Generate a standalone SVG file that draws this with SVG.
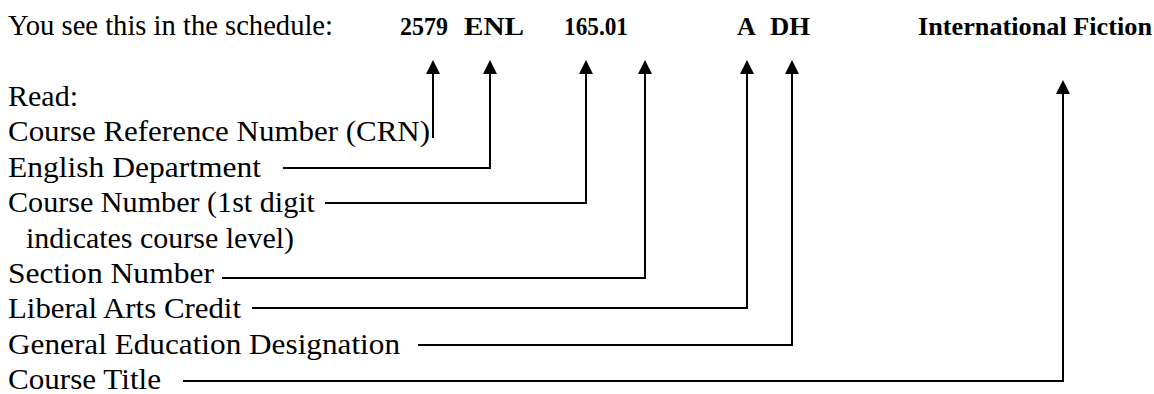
<svg xmlns="http://www.w3.org/2000/svg" width="1154" height="394" viewBox="0 0 1154 394">
  <style>
    .t { font-family: "Liberation Serif", "Times New Roman", serif; font-size: 30px; fill: #000; }
    .b { font-family: "Liberation Serif", "Times New Roman", serif; font-size: 26px; font-weight: bold; fill: #000; }
    .c { fill: none; stroke: #000; stroke-width: 2; }
  </style>
  <defs>
    <marker id="arrow" viewBox="0 0 14 14" refX="0" refY="7" markerWidth="14" markerHeight="14" markerUnits="userSpaceOnUse" orient="auto">
      <path d="M0,0 L14,7 L0,14 z" fill="#000"/>
    </marker>
  </defs>
  <rect width="1154" height="394" fill="#fff"/>

  <g id="header">
    <text class="t" x="8" y="35" textLength="325" lengthAdjust="spacingAndGlyphs">You see this in the schedule:</text>
  </g>
  <g id="code-crn"><text class="b" x="400" y="35" textLength="48" lengthAdjust="spacingAndGlyphs">2579</text></g>
  <g id="code-dept"><text class="b" x="464" y="35" textLength="60" lengthAdjust="spacingAndGlyphs">ENL</text></g>
  <g id="code-number"><text class="b" x="564" y="35" textLength="64" lengthAdjust="spacingAndGlyphs">165.01</text></g>
  <g id="code-la"><text class="b" x="737" y="35">A</text></g>
  <g id="code-gen"><text class="b" x="770" y="35" textLength="40" lengthAdjust="spacingAndGlyphs">DH</text></g>
  <g id="code-title"><text class="b" x="918" y="35" textLength="234" lengthAdjust="spacingAndGlyphs">International Fiction</text></g>

  <g id="read"><text class="t" x="8" y="106">Read:</text></g>
  <g id="label-crn"><text class="t" x="8" y="141" textLength="422" lengthAdjust="spacingAndGlyphs">Course Reference Number (CRN)</text></g>
  <g id="label-dept"><text class="t" x="8" y="177" textLength="253" lengthAdjust="spacingAndGlyphs">English Department</text></g>
  <g id="label-number">
    <text class="t" x="8" y="212" textLength="307" lengthAdjust="spacingAndGlyphs">Course Number (1st digit</text>
    <text class="t" x="26" y="248" textLength="268" lengthAdjust="spacingAndGlyphs">indicates course level)</text>
  </g>
  <g id="label-section"><text class="t" x="8" y="283" textLength="206" lengthAdjust="spacingAndGlyphs">Section Number</text></g>
  <g id="label-la"><text class="t" x="8" y="318" textLength="233" lengthAdjust="spacingAndGlyphs">Liberal Arts Credit</text></g>
  <g id="label-gen"><text class="t" x="8" y="354" textLength="392" lengthAdjust="spacingAndGlyphs">General Education Designation</text></g>
  <g id="label-title"><text class="t" x="8" y="389" textLength="153" lengthAdjust="spacingAndGlyphs">Course Title</text></g>

  <g id="connectors">
    <path class="c" d="M433,138 V74" marker-end="url(#arrow)"/>
    <path class="c" d="M283,168 H490 V74" marker-end="url(#arrow)"/>
    <path class="c" d="M325,203 H586 V74" marker-end="url(#arrow)"/>
    <path class="c" d="M222,278 H645 V74" marker-end="url(#arrow)"/>
    <path class="c" d="M252,308 H747 V74" marker-end="url(#arrow)"/>
    <path class="c" d="M418,345 H792 V74" marker-end="url(#arrow)"/>
    <path class="c" d="M183,381 H1063 V94" marker-end="url(#arrow)"/>
  </g>
</svg>
